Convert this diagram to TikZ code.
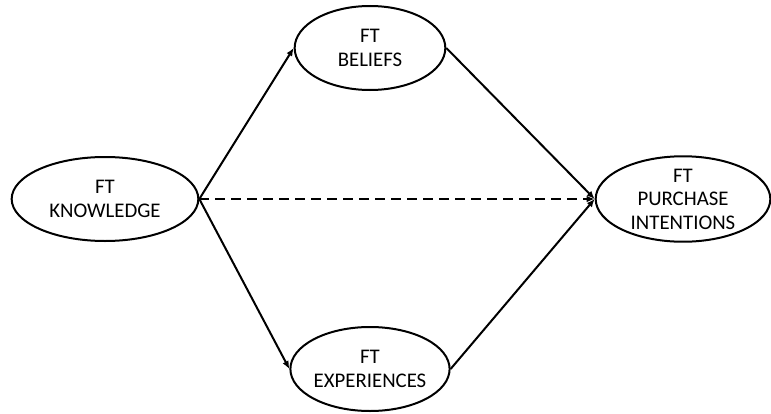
\documentclass[tikz,border=0pt]{standalone}
\usepackage{fontspec}
\setmainfont{Carlito}
\usetikzlibrary{shapes.geometric,arrows.meta}
\tikzset{
  construct/.style={draw, ellipse, line width=1.5pt, inner sep=0pt, align=center, font=\fontsize{15.6}{17.6}\selectfont},
  link/.style={line width=1.5pt, -{Latex[length=6pt,width=5pt]}}
}
\begin{document}
\begin{tikzpicture}[x=0.75pt,y=0.75pt,yscale=-1,xscale=1]
\useasboundingbox (0,0) rectangle (771,414);

% Text Node
\node [construct, minimum width=140pt, minimum height=63pt] (know) at (105,199) {FT\\KNOWLEDGE};
% Text Node
\node [construct, minimum width=113pt, minimum height=63pt] (beliefs) at (370,48) {FT\\BELIEFS};
% Text Node
\node [construct, minimum width=113pt, minimum height=63pt] (exper) at (370,369) {FT\\EXPERIENCES};
% Text Node
\node [construct, minimum width=131pt, minimum height=63pt] (purch) at (683,199) {FT\\PURCHASE\\INTENTIONS};

% Connection
\draw [link] (know.east) -- (beliefs.west);
% Connection
\draw [link] (know.east) -- (exper.west);
% Connection
\draw [link, dashed, dash pattern=on 7pt off 5pt] (know.east) -- (purch.west);
% Connection
\draw [link] (beliefs.east) -- (purch.west);
% Connection
\draw [link] (exper.east) -- (purch.west);

\end{tikzpicture}
\end{document}
